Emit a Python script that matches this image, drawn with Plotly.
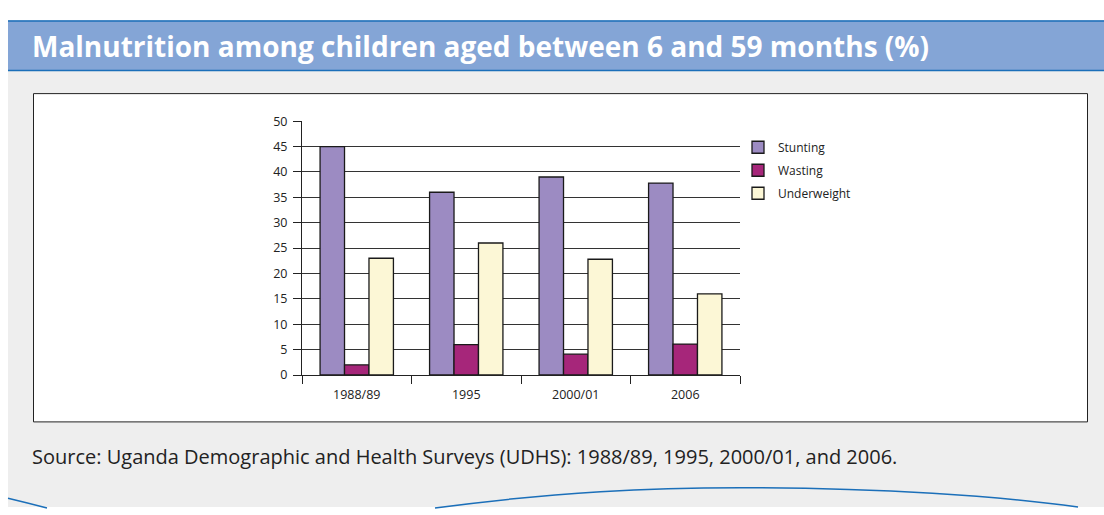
import plotly.graph_objects as go

W, H = 1104, 515

categories = ["1988/89", "1995", "2000/01", "2006"]
stunting = [45, 36, 39, 37.8]
wasting = [2, 6, 4.1, 6.1]
underweight = [23, 26, 22.8, 16]
series_names = ["Stunting", "Wasting", "Underweight"]
series_colors = ["#9c8bc2", "#a6267a", "#fcf7d6"]

title_text = "Malnutrition among children aged between 6 and 59 months (%)"
source_text = "Source: Uganda Demographic and Health Surveys (UDHS): 1988/89, 1995, 2000/01, and 2006."

FONT = "Open Sans"

def px_x(x):
    return x / W

def px_y(y):
    return 1 - y / H

fig = go.Figure()
for name, vals, col in zip(series_names, [stunting, wasting, underweight], series_colors):
    fig.add_trace(go.Bar(
        x=categories, y=vals, name=name,
        marker=dict(color=col, line=dict(color="#1a1a1a", width=1.3)),
        legendgroup=name,
        hoverinfo="skip",
    ))

shapes = [
    dict(type="rect", xref="paper", yref="paper", x0=px_x(8), x1=1, y0=0, y1=px_y(64),
         fillcolor="#eeeeee", line=dict(width=0), layer="below"),
    dict(type="rect", xref="paper", yref="paper", x0=px_x(8), x1=1, y0=px_y(63), y1=px_y(12),
         fillcolor="#84a5d6", line=dict(width=0), layer="below"),
    dict(type="line", xref="paper", yref="paper", x0=px_x(8), x1=1, y0=px_y(12.5), y1=px_y(12.5),
         line=dict(color="#1b6fb9", width=1.5), layer="below"),
    dict(type="line", xref="paper", yref="paper", x0=px_x(8), x1=1, y0=px_y(63.5), y1=px_y(63.5),
         line=dict(color="#1b6fb9", width=1.5), layer="below"),
    dict(type="rect", xref="paper", yref="paper", x0=px_x(33.5), x1=px_x(1087.5), y0=px_y(427), y1=px_y(87.5),
         fillcolor="#ffffff", line=dict(color="#222222", width=1), layer="below"),
    dict(type="path", xref="paper", yref="paper",
         path=f"M {px_x(8)},{px_y(506)} Q {px_x(28)},{px_y(511)} {px_x(47)},{px_y(516)}",
         line=dict(color="#1b6fb9", width=1.5)),
    dict(type="path", xref="paper", yref="paper",
         path=(f"M {px_x(435)},{px_y(516)} C {px_x(560)},{px_y(499)} {px_x(650)},{px_y(495)} {px_x(740)},{px_y(495)}"
               f" C {px_x(880)},{px_y(495)} {px_x(1000)},{px_y(504)} {px_x(1078)},{px_y(515)}"),
         line=dict(color="#1b6fb9", width=1.5)),
]

annotations = [
    dict(text=f"<b>{title_text}</b>", xref="paper", yref="paper", x=px_x(30), y=px_y(38.5),
         xanchor="left", yanchor="middle", showarrow=False,
         font=dict(family=FONT, size=28, color="#ffffff")),
    dict(text=source_text, xref="paper", yref="paper", x=px_x(30), y=px_y(463),
         xanchor="left", yanchor="middle", showarrow=False,
         font=dict(family=FONT, size=20, color="#222222")),
]

fig.update_layout(
    width=W, height=H,
    margin=dict(l=0, r=0, t=0, b=0),
    paper_bgcolor="#ffffff",
    plot_bgcolor="rgba(0,0,0,0)",
    barmode="group",
    bargap=0.33,
    bargroupgap=0,
    font=dict(family=FONT, size=12.5, color="#222222"),
    shapes=shapes,
    annotations=annotations,
    showlegend=True,
    legend=dict(x=px_x(738), y=px_y(128), xanchor="left", yanchor="top",
                bgcolor="rgba(0,0,0,0)", font=dict(family=FONT, size=12, color="#222222"),
                tracegroupgap=4, itemclick=False, itemwidth=30),
    xaxis=dict(domain=[px_x(302), px_x(740)], showgrid=False, showline=True,
               linecolor="#222222", linewidth=1, ticks="outside", tickson="boundaries",
               ticklen=8, tickcolor="#222222", fixedrange=True, zeroline=False,
               ticklabelstandoff=8),
    yaxis=dict(domain=[px_y(378.5), px_y(116)], range=[0, 50], dtick=5, tick0=0,
               showgrid=True, gridcolor="#333333", gridwidth=1,
               showline=True, linecolor="#222222", linewidth=1,
               ticks="outside", ticklen=8, tickcolor="#222222",
               zeroline=False, fixedrange=True, ticklabelstandoff=3),
)

fig.write_html("out.html")
